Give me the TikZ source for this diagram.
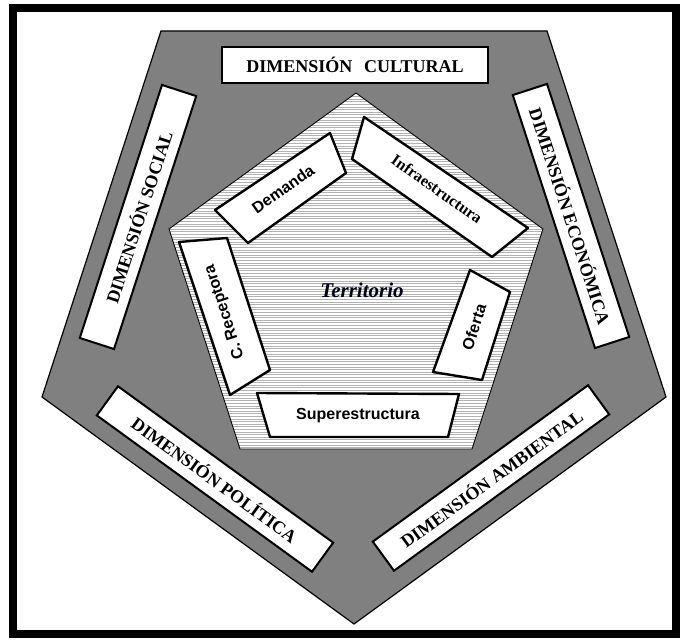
\documentclass[tikz,border=0pt]{standalone}
\usepackage{fontspec}
\setmainfont{Liberation Serif}
\newfontfamily\arialfont{Liberation Sans}
\definecolor{pentgray}{HTML}{808080}
\definecolor{stripegray}{HTML}{B2B2B2}
\tikzset{
  dimbox/.style={draw=black, line width=2pt, fill=white, minimum width=266pt,
    minimum height=36pt, inner sep=0pt, font=\fontsize{18}{20}\selectfont\bfseries},
  factorbox/.style={draw=black, line width=2.4pt, fill=white, line join=round},
  factortext/.style={inner sep=0pt, font=\arialfont\fontsize{16}{18}\selectfont\bfseries},
}
\begin{document}
\begin{tikzpicture}[x=1pt,y=-1pt]
\useasboundingbox (0,0) rectangle (683,642);
% marco
\draw[line width=8pt] (13,8) rectangle (676,634);
% pentagono exterior
\draw[fill=pentgray, line width=1.2pt] (161,31) -- (547,31) -- (666,397) -- (354,624) -- (42,397) -- cycle;
% pentagono interior (rayado)
\fill[white] (356,93) -- (543,229) -- (472,449) -- (240,449) -- (169,229) -- cycle;
\begin{scope}
  \clip (356,93) -- (543,229) -- (472,449) -- (240,449) -- (169,229) -- cycle;
  \foreach \y in {94,96.6,...,452}
    \draw[stripegray, line width=1pt] (160,\y) -- (552,\y);
\end{scope}
\draw[line width=0.9pt] (356,93) -- (543,229) -- (472,449) -- (240,449) -- (169,229) -- cycle;
% dimensiones
\node[dimbox] (cultural) at (355,65) {DIMENSIÓN\hspace{0.4em} CULTURAL};
\node[dimbox, rotate=72] (social) at (138,217) {DIMENSIÓN SOCIAL};
\node[dimbox, rotate=-72] (economica) at (571,216) {DIMENSIÓN ECONÓMICA};
\node[dimbox, rotate=-36] (politica) at (215,479) {DIMENSIÓN POLÍTICA};
\node[dimbox, rotate=36] (ambiental) at (491,478) {DIMENSIÓN AMBIENTAL};
% componentes del territorio
\draw[factorbox] (215,210) -- (330,133) -- (346,173) -- (248,243) -- cycle;
\node[factortext, rotate=35] (demanda) at (283,189) {Demanda};
\draw[factorbox] (364,117) -- (528,228) -- (492,257) -- (352,159) -- cycle;
\node[inner sep=0pt, font=\fontsize{16}{18}\selectfont\bfseries, rotate=-35] (infra) at (437,189) {Infraestructura};
\draw[factorbox] (470,270) -- (510,292) -- (482,380) -- (433,372) -- cycle;
\node[factortext, rotate=72] (oferta) at (474,327) {Oferta};
\draw[factorbox] (257,393) -- (459,394) -- (448,437) -- (270,437) -- cycle;
\node[factortext] (super) at (358,416) {Superestructura};
\draw[factorbox] (179,242) -- (227,238) -- (270,370) -- (230,395) -- cycle;
\node[factortext, rotate=108] (receptora) at (225,312) {C. Receptora};
\node[font=\fontsize{21}{24}\selectfont\bfseries\itshape, text=black!90!blue] (territorio) at (362,290) {Territorio};
\end{tikzpicture}
\end{document}
